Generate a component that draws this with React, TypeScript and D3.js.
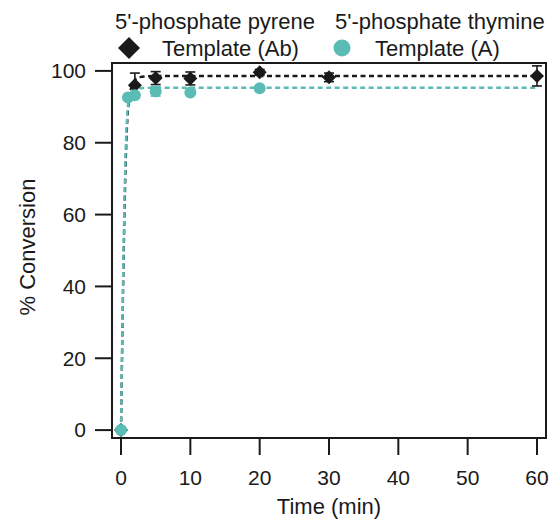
import React from "react";
import * as d3 from "d3";

const pyreneTime = [0, 2, 5, 10, 20, 30, 60];
const pyreneValue = [0, 96.0, 98.0, 97.9, 99.6, 98.2, 98.6];
const pyreneError = [0, 3.4, 1.8, 1.8, 0.8, 1.2, 2.8];

const thymineTime = [0, 1, 2, 5, 10, 20];
const thymineValue = [0, 92.6, 93.2, 94.3, 94.0, 95.2];
const thymineError = [0, 0.4, 0.6, 1.3, 0.4, 0.4];

const pyreneFitTime = [0, 0.35, 0.7, 1.0, 1.5, 2.5, 5, 60];
const pyreneFitValue = [0, 45, 76, 89, 95.5, 98.2, 98.6, 98.6];
const thymineFitTime = [0, 0.3, 0.6, 0.9, 1.3, 2, 5, 60];
const thymineFitValue = [0, 42, 73, 88, 93.8, 95.1, 95.3, 95.3];

const xTicks = [0, 10, 20, 30, 40, 50, 60];
const yTicks = [0, 20, 40, 60, 80, 100];

const legendTitles = ["5'-phosphate pyrene", "5'-phosphate thymine"];
const legendLabels = ["Template (Ab)", "Template (A)"];

const TEAL = "#5bbcb6";
const BLACK = "#1a1a1a";

export default function App() {
  const left = 112, right = 546, top = 63, bottom = 438;
  const x = d3.scaleLinear().domain([-1.3, 61.3]).range([left, right]);
  const y = d3.scaleLinear().domain([-2.2, 102.2]).range([bottom, top]);
  const font = "Liberation Sans, Arial, sans-serif";

  const line = d3
    .line<[number, number]>()
    .x((d) => x(d[0]))
    .y((d) => y(d[1]))
    .curve(d3.curveMonotoneX);

  const pyreneFit = pyreneFitTime.map((t, i) => [t, pyreneFitValue[i]] as [number, number]);
  const thymineFit = thymineFitTime.map((t, i) => [t, thymineFitValue[i]] as [number, number]);

  const diamond = (cx: number, cy: number, r: number) =>
    `M${cx},${cy - r}L${cx + r},${cy}L${cx},${cy + r}L${cx - r},${cy}Z`;

  const errBars = (
    ts: number[],
    vs: number[],
    es: number[],
    color: string
  ) =>
    ts.map((t, i) =>
      es[i] > 0 ? (
        <g key={"e" + i} stroke={color} strokeWidth={1.6}>
          <line x1={x(t)} x2={x(t)} y1={y(vs[i] - es[i])} y2={y(vs[i] + es[i])} />
          <line x1={x(t) - 5} x2={x(t) + 5} y1={y(vs[i] - es[i])} y2={y(vs[i] - es[i])} />
          <line x1={x(t) - 5} x2={x(t) + 5} y1={y(vs[i] + es[i])} y2={y(vs[i] + es[i])} />
        </g>
      ) : null
    );

  return (
    <svg width={553} height={520} style={{ position: "absolute", left: 0, top: 0 }}>
      <rect width={553} height={520} fill="white" />
      {/* legend */}
      <g fontFamily={font} fontSize={22} fill="#1a1a1a">
        <text x={115} y={29}>{legendTitles[0]}</text>
        <text x={335} y={29}>{legendTitles[1]}</text>
        <path d={diamond(129, 48, 11)} fill={BLACK} />
        <text x={162} y={56}>{legendLabels[0]}</text>
        <circle cx={342} cy={48} r={8.5} fill={TEAL} />
        <text x={375} y={56}>{legendLabels[1]}</text>
      </g>
      {/* fit lines */}
      <path
        d={line(pyreneFit) || ""}
        fill="none"
        stroke={BLACK}
        strokeWidth={2.4}
        strokeDasharray="5,3.5"
      />
      <path
        d={line(thymineFit) || ""}
        fill="none"
        stroke={TEAL}
        strokeWidth={2.4}
        strokeDasharray="5,3.5"
      />
      {/* pyrene points */}
      {errBars(pyreneTime, pyreneValue, pyreneError, BLACK)}
      {pyreneTime.map((t, i) => (
        <path key={"p" + i} d={diamond(x(t), y(pyreneValue[i]), 7)} fill={BLACK} />
      ))}
      {/* thymine points */}
      {errBars(thymineTime, thymineValue, thymineError, TEAL)}
      {thymineTime.map((t, i) => (
        <circle key={"t" + i} cx={x(t)} cy={y(thymineValue[i])} r={6} fill={TEAL} />
      ))}
      {/* frame */}
      <rect
        x={left}
        y={top}
        width={right - left}
        height={bottom - top}
        fill="none"
        stroke={BLACK}
        strokeWidth={2}
      />
      {/* axes */}
      <g fontFamily={font} fontSize={21} fill="#1a1a1a">
        {yTicks.map((v) => (
          <g key={"y" + v}>
            <line x1={95} x2={left} y1={y(v)} y2={y(v)} stroke={BLACK} strokeWidth={2} />
            <text x={86} y={y(v)} dy="0.35em" textAnchor="end">
              {v}
            </text>
          </g>
        ))}
        {xTicks.map((v) => (
          <g key={"x" + v}>
            <line x1={x(v)} x2={x(v)} y1={bottom} y2={455} stroke={BLACK} strokeWidth={2} />
            <text x={x(v)} y={478} dy="0.35em" textAnchor="middle">
              {v}
            </text>
          </g>
        ))}
      </g>
      <g fontFamily={font} fontSize={22} fill="#1a1a1a">
        <text x={329} y={506} dy="0.35em" textAnchor="middle">
          Time (min)
        </text>
        <text
          transform={`translate(27,${247}) rotate(-90)`}
          dy="0.35em"
          textAnchor="middle"
        >
          % Conversion
        </text>
      </g>
    </svg>
  );
}
